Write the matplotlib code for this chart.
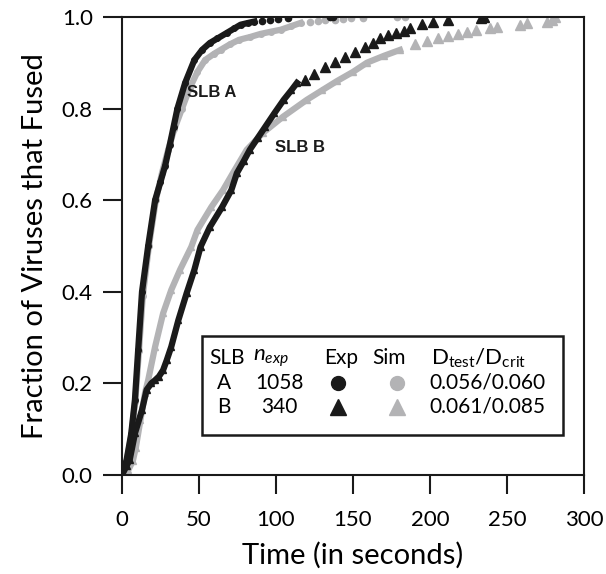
import matplotlib.pyplot as plt
from matplotlib.patches import Rectangle

plt.rcParams['font.family'] = ['Lato', 'DejaVu Sans']
plt.rcParams['mathtext.fontset'] = 'custom'
plt.rcParams['mathtext.rm'] = 'Lato'
plt.rcParams['mathtext.it'] = 'Lato:italic'

# SLB A, experiment (black circles): dense part and sparse tail
a_exp_t = [0, 3, 6, 8.4, 10.5, 13, 17, 21.5, 25, 28, 31, 33.5, 36, 41, 47, 52, 57, 62, 68, 73, 77, 82, 86]
a_exp_f = [0, .033, .09, .164, .273, .4, .5, .6, .64, .675, .72, .76, .80, .856, .906, .928, .943, .953, .965, .975, .983, .987, .99]
a_exp_tail_t = [91, 96, 101, 108, 135, 137]
a_exp_tail_f = [.991, .993, .995, .997, .999, 1.0]

# SLB A, simulation (grey circles)
a_sim_t = [0, 3, 6, 8.6, 11, 13.5, 17.5, 22, 26, 30, 34, 39, 44, 49, 54, 60, 64, 70, 76, 83, 90, 97, 103, 110, 116]
a_sim_f = [0, .03, .085, .16, .27, .39, .5, .6, .66, .71, .755, .8, .845, .88, .906, .92, .928, .94, .95, .956, .963, .968, .972, .98, .987]
a_sim_tail_t = [122, 127, 132, 138, 143.5, 149, 156.5, 178.5, 184]
a_sim_tail_f = [.989, .991, .993, .994, .996, .997, .998, .999, 1.0]

# SLB B, experiment (black triangles)
b_exp_t = [0, 3, 5, 8.5, 13, 16, 19, 21.5, 24, 26.7, 29, 32, 36.6, 42, 47, 51, 57, 65, 71, 74.6, 79, 83, 88, 93, 99, 105, 110, 113.6]
b_exp_f = [0, .02, .033, .092, .142, .186, .2, .207, .215, .229, .25, .28, .338, .397, .448, .498, .541, .585, .622, .659, .685, .71, .735, .76, .79, .819, .84, .856]
b_exp_tail_t = [119, 125, 132, 138, 145, 151, 158, 163, 167.5, 173, 178, 183, 187, 195, 202, 212, 233, 235]
b_exp_tail_f = [.862, .875, .89, .902, .913, .924, .935, .944, .954, .96, .965, .97, .976, .985, .988, .993, .997, 1.0]

# SLB B, simulation (grey triangles)
b_sim_t = [0, 4, 7, 9, 12, 15, 17, 21.5, 26.7, 32, 37.7, 45, 49, 58, 65.6, 72, 81, 91.6, 104.5, 120, 130, 139.6, 150, 159, 170, 180.5]
b_sim_f = [0, .01, .03, .06, .12, .18, .207, .28, .353, .404, .448, .498, .535, .585, .622, .659, .71, .747, .782, .819, .84, .86, .88, .9, .915, .928]
b_sim_tail_t = [190, 198, 205, 212, 218, 224, 230, 239, 243.5, 258.4, 263, 276, 279, 281]
b_sim_tail_f = [.94, .947, .953, .958, .963, .967, .971, .976, .978, .983, .987, .989, .993, 1.0]

# legend table
slb_names = ['A', 'B']
n_exp = ['1058', '340']
d_vals = ['0.056/0.060', '0.061/0.085']

black = '#1a1a1a'
grey = '#b3b3b5'

fig = plt.figure(figsize=(6.06, 5.74), dpi=100)
ax = fig.add_axes([0.2013, 0.1725, 0.7624, 0.798])

ax.plot(a_sim_t, a_sim_f, '-o', color=grey, lw=4.5, ms=4, zorder=2)
ax.plot(a_sim_tail_t, a_sim_tail_f, 'o', color=grey, ms=4.5, zorder=2)
ax.plot(b_sim_t, b_sim_f, '-^', color=grey, lw=4.5, ms=5, zorder=2)
ax.plot(b_sim_tail_t, b_sim_tail_f, '^', color=grey, ms=6.5, zorder=2)

ax.plot(a_exp_t, a_exp_f, '-o', color=black, lw=4.5, ms=4, zorder=3)
ax.plot(a_exp_tail_t, a_exp_tail_f, 'o', color=black, ms=4.5, zorder=3)
ax.plot(b_exp_t, b_exp_f, '-^', color=black, lw=4.5, ms=5, zorder=3)
ax.plot(b_exp_tail_t, b_exp_tail_f, '^', color=black, ms=6.5, zorder=3)

ax.text(42, 0.834, 'SLB A', family='Liberation Sans', fontweight='bold',
        fontsize=12, va='center', color=black)
ax.text(99.5, 0.716, 'SLB B', family='Liberation Sans', fontweight='bold',
        fontsize=12, va='center', color=black)

ax.set_xlim(0, 300)
ax.set_ylim(0, 1.0)
ax.set_xticks(range(0, 301, 50))
ax.set_yticks([0.0, 0.2, 0.4, 0.6, 0.8, 1.0])
ax.set_yticklabels(['0.0', '0.2', '0.4', '0.6', '0.8', '1.0'])
ax.tick_params(axis='both', direction='out', length=14, width=1.5,
               labelsize=16, color=black)
ax.tick_params(axis='x', pad=11)
ax.tick_params(axis='y', pad=7)
for s in ax.spines.values():
    s.set_linewidth(1.5)
    s.set_color(black)
ax.set_xlabel('Time (in seconds)', fontsize=21, labelpad=9)
ax.set_ylabel('Fraction of Viruses that Fused', fontsize=21, labelpad=10)

# legend box
tr = ax.transAxes
ax.add_patch(Rectangle((0.173, 0.087), 0.782, 0.216, transform=tr,
                       fill=True, facecolor='white', edgecolor=black,
                       lw=1.8, zorder=5))
fs = 15
hy, ya, yb = 0.2555, 0.2009, 0.1485
ax.text(0.227, hy, 'SLB', transform=tr, ha='center', va='center', fontsize=fs, zorder=6)
ax.text(0.3225, hy, '$n_{exp}$', transform=tr, ha='center', va='center', fontsize=fs + 1, zorder=6)
ax.text(0.474, hy, 'Exp', transform=tr, ha='center', va='center', fontsize=fs, zorder=6)
ax.text(0.578, hy, 'Sim', transform=tr, ha='center', va='center', fontsize=fs, zorder=6)
ax.text(0.773, hy, r'D$_{\mathrm{test}}$/D$_{\mathrm{crit}}$', transform=tr,
        ha='center', va='center', fontsize=fs + 1, zorder=6)
for yy, name, n, d in zip([ya, yb], slb_names, n_exp, d_vals):
    ax.text(0.221, yy, name, transform=tr, ha='center', va='center', fontsize=fs, zorder=6)
    ax.text(0.34, yy, n, transform=tr, ha='center', va='center', fontsize=fs, zorder=6)
    ax.text(0.79, yy, d, transform=tr, ha='center', va='center', fontsize=fs, zorder=6)
ax.plot([0.4675], [ya], 'o', color=black, ms=10, transform=tr, zorder=6)
ax.plot([0.595], [ya], 'o', color=grey, ms=10, transform=tr, zorder=6)
ax.plot([0.4675], [yb], '^', color=black, ms=11, transform=tr, zorder=6)
ax.plot([0.595], [yb], '^', color=grey, ms=11, transform=tr, zorder=6)

fig.savefig('out.png', dpi=100)
